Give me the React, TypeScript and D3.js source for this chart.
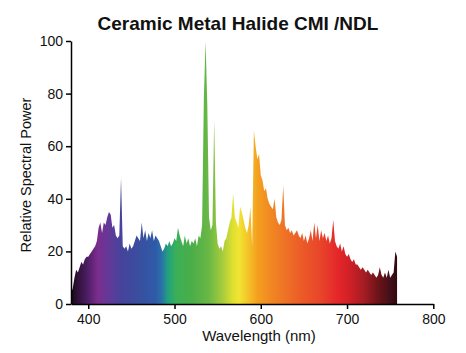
import * as React from 'react'
import { useEffect, useRef } from 'react'
import * as d3 from 'd3'

// wavelength samples, every 2 nm from 380 to 758
const wavelengths: number[] = d3.range(380, 760, 2)

// relative spectral power, one value per wavelength above
const power: number[] = [
  4, 6, 10, 13, 12, 14, 16, 15, 17, 18, // 380-398
  18, 19, 20, 21, 22, 24, 29, 31, 27, 31, // 400-418
  30, 33, 35, 34, 29, 30, 26, 25, 26, 48, // 420-438 (436 spike)
  22, 21, 22, 20, 23, 21, 22, 24, 26, 25, // 440-458
  24, 31, 25, 28, 24, 27, 25, 28, 24, 26, // 460-478
  25, 24, 22, 20, 21, 23, 22, 24, 22, 23, // 480-498
  25, 24, 29, 26, 24, 22, 26, 23, 25, 22, // 500-518
  24, 23, 25, 22, 26, 25, 30, 78, 100, 76, // 520-538
  33, 28, 30, 70, 31, 23, 21, 22, 20, 24, // 540-558
  25, 28, 31, 33, 42, 33, 31, 29, 37, 35, // 560-578
  32, 29, 27, 30, 37, 22, 66, 60, 55, 57, // 580-598
  49, 47, 43, 44, 40, 38, 37, 36, 40, 33, // 600-618
  31, 30, 32, 45, 30, 28, 29, 27, 28, 26, // 620-638
  27, 28, 26, 25, 27, 24, 26, 23, 25, 28, // 640-658
  24, 31, 25, 30, 24, 28, 25, 27, 24, 26, // 660-678
  23, 25, 32, 24, 22, 21, 23, 20, 22, 19, // 680-698
  18, 19, 17, 16, 17, 15, 15, 14, 13, 14, // 700-718
  13, 12, 13, 12, 11, 12, 11, 10, 11, 14, // 720-738
  11, 10, 12, 10, 13, 10, 11, 12, 20, 18, // 740-758
]

const xTicks: number[] = [400, 500, 600, 700, 800]
const yTicks: number[] = [0, 20, 40, 60, 80, 100]

// colour of the visible spectrum at a wavelength, for the fill gradient
const spectrumStops: [number, string][] = [
  [380, '#150812'],
  [386, '#2a1030'],
  [398, '#4a1c60'],
  [411, '#7b2d8e'],
  [425, '#603a98'],
  [440, '#44449c'],
  [458, '#3a4e9f'],
  [478, '#2e5ba8'],
  [485, '#2a70a8'],
  [492, '#20a080'],
  [502, '#3caf58'],
  [520, '#4aae48'],
  [540, '#6ab845'],
  [556, '#a8cc3c'],
  [568, '#e0e030'],
  [575, '#f2e432'],
  [585, '#f4c428'],
  [596, '#f4a020'],
  [610, '#f18a22'],
  [630, '#ee7026'],
  [648, '#ec5a28'],
  [670, '#e8442a'],
  [690, '#e4262a'],
  [705, '#cc2026'],
  [720, '#a41c24'],
  [735, '#701418'],
  [748, '#48101a'],
  [758, '#300a10'],
]

const WIDTH = 466
const HEIGHT = 353
const FONT = "Arial, 'Liberation Sans', sans-serif"

function SpectrumChart() {
  const svgRef = useRef<SVGSVGElement>(null)

  useEffect(() => {
    if (!svgRef.current) return
    const svg = d3.select(svgRef.current)
    svg.selectAll('*').remove()

    const x = d3.scaleLinear().domain([380, 800]).range([71, 433.3])
    const y = d3.scaleLinear().domain([0, 100]).range([304, 41])

    const data = wavelengths.map((w, i) => ({ w, v: power[i] }))
    const lo = wavelengths[0]
    const hi = wavelengths[wavelengths.length - 1]

    // horizontal rainbow gradient
    const grad = svg.append('defs').append('linearGradient')
      .attr('id', 'spectrum')
      .attr('gradientUnits', 'userSpaceOnUse')
      .attr('x1', x(lo)).attr('x2', x(hi))
      .attr('y1', 0).attr('y2', 0)
    spectrumStops.forEach(([w, c]) => {
      grad.append('stop')
        .attr('offset', (w - lo) / (hi - lo))
        .attr('stop-color', c)
    })

    const area = d3.area<{ w: number; v: number }>()
      .x(d => x(d.w))
      .y0(y(0))
      .y1(d => y(d.v))

    svg.append('path')
      .datum(data)
      .attr('d', area)
      .attr('fill', 'url(#spectrum)')

    // axes
    const xAxis = svg.append('g')
      .attr('transform', `translate(0, ${y(0)})`)
      .call(d3.axisBottom(x).tickValues(xTicks).tickSize(5).tickSizeOuter(0).tickPadding(5) as any)
    const yAxis = svg.append('g')
      .attr('transform', `translate(${x(380)}, 0)`)
      .call(d3.axisLeft(y).tickValues(yTicks).tickSize(5).tickSizeOuter(0).tickPadding(3) as any)

    ;[xAxis, yAxis].forEach(g => {
      g.select('.domain').attr('stroke', '#000').attr('stroke-width', 1.5)
      g.selectAll('.tick line').attr('stroke', '#000').attr('stroke-width', 1.5)
      g.selectAll('.tick text')
        .attr('fill', '#111')
        .style('font-family', FONT)
        .style('font-size', '14px')
    })

    // titles
    svg.append('text')
      .attr('x', 238)
      .attr('y', 30)
      .attr('text-anchor', 'middle')
      .style('font-family', FONT)
      .style('font-size', '19px')
      .style('font-weight', 'bold')
      .attr('fill', '#111')
      .text('Ceramic Metal Halide CMI /NDL')

    svg.append('text')
      .attr('x', 259)
      .attr('y', 341)
      .attr('text-anchor', 'middle')
      .style('font-family', FONT)
      .style('font-size', '15px')
      .attr('fill', '#111')
      .text('Wavelength (nm)')

    svg.append('text')
      .attr('transform', 'translate(31, 175) rotate(-90)')
      .attr('text-anchor', 'middle')
      .style('font-family', FONT)
      .style('font-size', '14.5px')
      .attr('fill', '#111')
      .text('Relative Spectral Power')
  }, [])

  return <svg ref={svgRef} width={WIDTH} height={HEIGHT} style={{ display: 'block', background: '#fff' }} />
}

export default function App() {
  return (
    <div style={{ position: 'absolute', left: 0, top: 0 }}>
      <SpectrumChart />
    </div>
  )
}
